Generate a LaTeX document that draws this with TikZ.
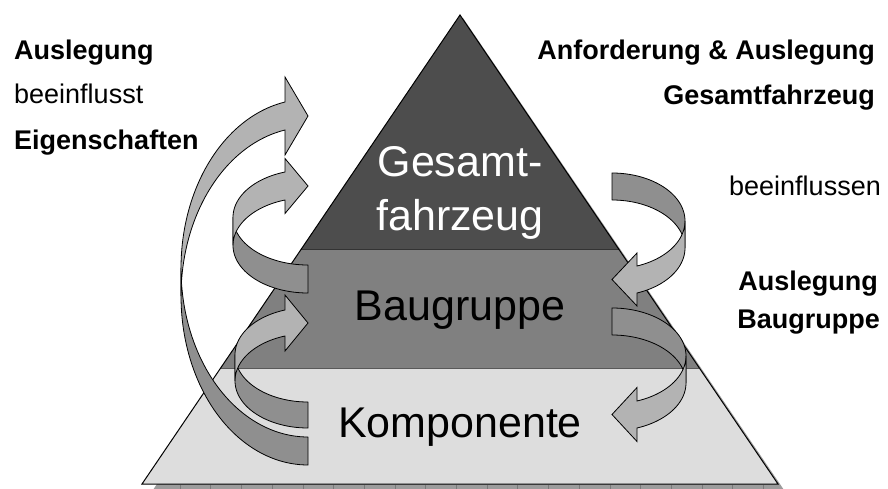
\documentclass[tikz,border=0pt]{standalone}
\usepackage{fontspec}
\setmainfont{Liberation Sans}
\definecolor{pyrTop}{HTML}{4D4D4D}
\definecolor{pyrMid}{HTML}{808080}
\definecolor{pyrLow}{HTML}{DDDDDD}
\definecolor{arrFront}{HTML}{B3B3B3}
\definecolor{arrBack}{HTML}{8F8F8F}
\definecolor{shadowc}{HTML}{9C9C9C}
\definecolor{tickc}{HTML}{7A7A7A}
\tikzset{
  backface/.style={fill=arrBack, draw=black, line width=0.8pt, line join=round},
  frontface/.style={fill=arrFront, draw=black, line width=0.8pt, line join=miter},
  biglabel/.style={font=\fontsize{43}{50}\selectfont, inner sep=0pt, anchor=base},
  sidelabel/.style={font=\fontsize{27}{32}\selectfont, inner sep=0pt},
}
% curved arrow, head at top pointing right, tail at bottom
% #1 R, #2 leftmost x, #3 tail top y, #4 shaft upper y at head, #5 thickness, #6 head base x, #7 half head, #8 tip x
\newcommand{\CurvArrowL}[8]{%
  \pgfmathsetmacro\myrx{#1-#2}%
  \pgfmathsetmacro\myca{(#1-#6)/\myrx}%
  \pgfmathsetmacro\mysa{sqrt(1-\myca*\myca)}%
  \pgfmathsetmacro\myry{(#3-#4)/(1+\mysa)}%
  \pgfmathsetmacro\mycA{#3-\myry}%
  \pgfmathsetmacro\mycB{\mycA+#5}%
  \pgfmathsetmacro\myta{180+acos(\myca)}%
  \pgfmathsetmacro\mymid{#4+#5/2}%
  \draw[backface] plot[domain=180:90, samples=50, variable=\t] ({#1+\myrx*cos(\t)},{\mycA+\myry*sin(\t)})
     -- plot[domain=90:180, samples=50, variable=\t] ({#1+\myrx*cos(\t)},{\mycB+\myry*sin(\t)}) -- cycle;
  \draw[frontface] plot[domain=180:\myta, samples=50, variable=\t] ({#1+\myrx*cos(\t)},{\mycB+\myry*sin(\t)})
     -- (#6,\mymid+#7) -- (#8,\mymid) -- (#6,\mymid-#7)
     -- plot[domain=\myta:180, samples=50, variable=\t] ({#1+\myrx*cos(\t)},{\mycA+\myry*sin(\t)}) -- cycle;
}
% curved arrow, tail at top, head at bottom pointing left
% #1 L, #2 rightmost x, #3 tail top y, #4 shaft upper y at head, #5 thickness, #6 head base x, #7 half head, #8 tip x
\newcommand{\CurvArrowR}[8]{%
  \pgfmathsetmacro\myrx{#2-#1}%
  \pgfmathsetmacro\myca{(#6-#1)/\myrx}%
  \pgfmathsetmacro\mysa{sqrt(1-\myca*\myca)}%
  \pgfmathsetmacro\myry{(#4-#3)/(1+\mysa)}%
  \pgfmathsetmacro\mycA{#3+\myry}%
  \pgfmathsetmacro\mycB{\mycA+#5}%
  \pgfmathsetmacro\myta{acos(\myca)}%
  \pgfmathsetmacro\mymid{#4+#5/2}%
  \draw[backface] plot[domain=270:360, samples=50, variable=\t] ({#1+\myrx*cos(\t)},{\mycA+\myry*sin(\t)})
     -- plot[domain=360:270, samples=50, variable=\t] ({#1+\myrx*cos(\t)},{\mycB+\myry*sin(\t)}) -- cycle;
  \draw[frontface] plot[domain=0:\myta, samples=50, variable=\t] ({#1+\myrx*cos(\t)},{\mycB+\myry*sin(\t)})
     -- (#6,\mymid+#7) -- (#8,\mymid) -- (#6,\mymid-#7)
     -- plot[domain=\myta:0, samples=50, variable=\t] ({#1+\myrx*cos(\t)},{\mycA+\myry*sin(\t)}) -- cycle;
}
\begin{document}
\begin{tikzpicture}[x=1pt,y=-1pt]
\useasboundingbox (0,0) rectangle (888,489);
\fill[white] (0,0) rectangle (888,489);
% shadow
\begin{scope}
\clip (0,0) rectangle (888,489);
\fill[shadowc] (463,18) -- (784,490) -- (153,490) -- cycle;
\foreach \k in {0,...,19} {\draw[tickc, line width=0.6pt] ({180+30.7*\k},485) -- ({180+30.7*\k},489);}
\end{scope}
% pyramid bands
\coordinate (apex) at (460,15);
\coordinate (bl) at (142,484);
\coordinate (br) at (778,484);
\coordinate (m1l) at (301.3,249);
\coordinate (m1r) at (618.7,249);
\coordinate (m2l) at (220.7,368);
\coordinate (m2r) at (699.3,368);
\fill[pyrLow] (m2l) -- (m2r) -- (br) -- (bl) -- cycle;
\fill[pyrMid] (m1l) -- (m1r) -- (m2r) -- (m2l) -- cycle;
\fill[pyrTop] (apex) -- (m1r) -- (m1l) -- cycle;
\draw[black!80, line width=0.8pt] (m1l) -- (m1r);
\draw[black!65, line width=0.8pt] (m2l) -- (m2r);
\draw[black, line width=1pt, line join=miter] (apex) -- (br) -- (bl) -- cycle;
% labels in pyramid
\node[biglabel, text=white] (gesamtA) at (460,177) {Gesamt-};
\node[biglabel, text=white] (gesamtB) at (460,230) {fahrzeug};
\node[biglabel] (baugruppe) at (460,320) {Baugruppe};
\node[biglabel] (komponente) at (460,437) {Komponente};
% arrows left
\CurvArrowL{308}{181}{437}{102}{28}{285}{39}{308}
\CurvArrowL{308}{233}{265}{172}{28}{285}{27.5}{308}
\CurvArrowL{308}{235}{402}{310}{26}{285}{28}{308}
% arrows right
\CurvArrowR{612}{685}{173}{266}{27}{637}{26.5}{612}
\CurvArrowR{612}{686}{308}{401}{27}{637}{27}{612}
% side texts
\node[sidelabel, anchor=base west, font=\fontsize{27}{32}\selectfont\bfseries] (lt1) at (14,59.5) {Auslegung};
\node[sidelabel, anchor=base west] (lt2) at (14,104) {beeinflusst};
\node[sidelabel, anchor=base west, font=\fontsize{27}{32}\selectfont\bfseries] (lt3) at (14,150) {Eigenschaften};
\node[sidelabel, anchor=base east, font=\fontsize{27}{32}\selectfont\bfseries] (rt1) at (875,60) {Anforderung \& Auslegung};
\node[sidelabel, anchor=base east, font=\fontsize{27}{32}\selectfont\bfseries] (rt2) at (875,105) {Gesamtfahrzeug};
\node[sidelabel, anchor=base east] (rt3) at (881,195) {beeinflussen};
\node[sidelabel, anchor=base east, font=\fontsize{27}{32}\selectfont\bfseries] (rt4) at (878,290) {Auslegung};
\node[sidelabel, anchor=base east, font=\fontsize{27}{32}\selectfont\bfseries] (rt5) at (880,328) {Baugruppe};
\end{tikzpicture}
\end{document}
